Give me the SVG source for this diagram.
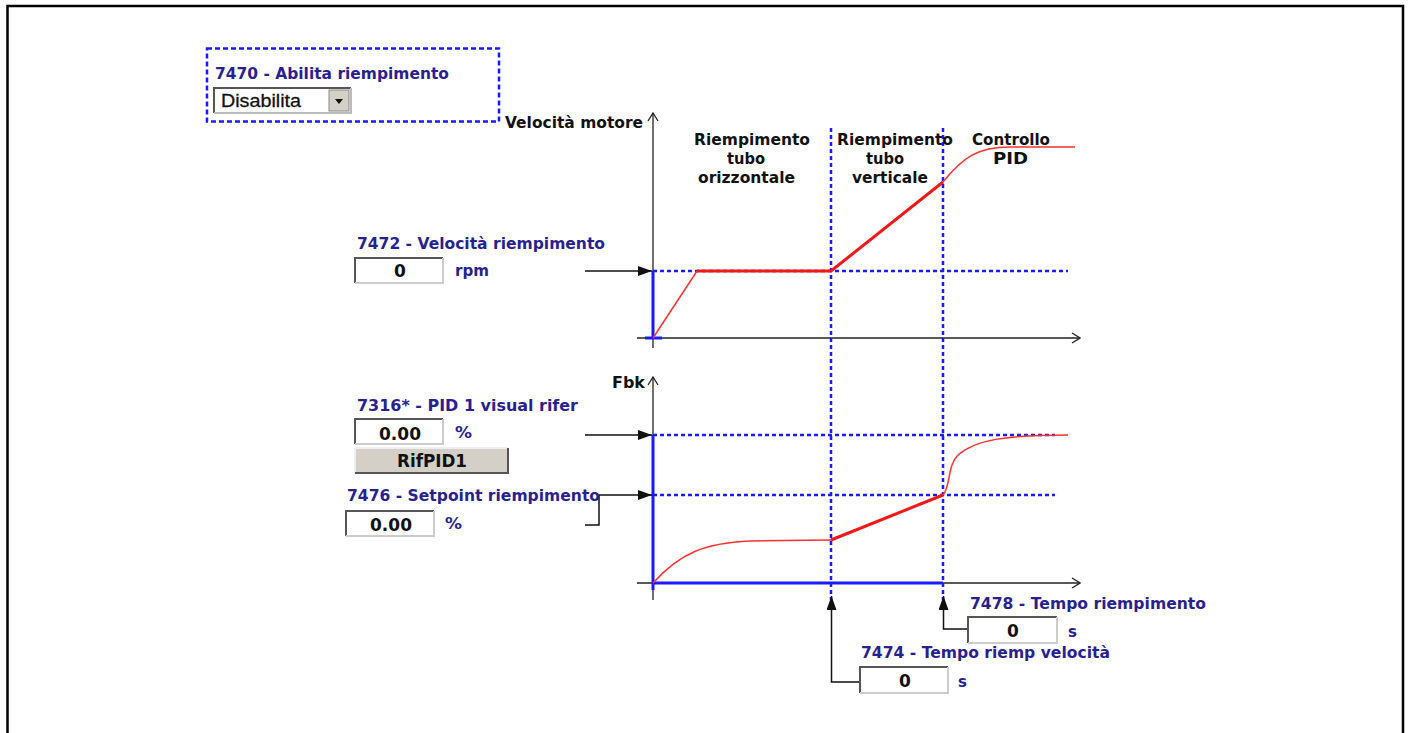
<svg xmlns="http://www.w3.org/2000/svg" width="1410" height="733" viewBox="0 0 1410 733">
<defs>
<style>
.lbl{font-family:"DejaVu Sans",Verdana,sans-serif;font-weight:bold;font-size:15px;fill:#2a1f8f}
.blk{font-family:"DejaVu Sans",Verdana,sans-serif;font-weight:bold;font-size:15px;fill:#111}
.val{font-family:"DejaVu Sans",Verdana,sans-serif;font-weight:bold;font-size:17px;fill:#111;text-anchor:middle}
.axis{stroke:#222;stroke-width:1.3;fill:none}
.dash{stroke:#1a1aff;stroke-width:2.5;stroke-dasharray:4 3;fill:none}
.bsolid{stroke:#1a1aff;stroke-width:3;fill:none}
.rthin{stroke:#ff3030;stroke-width:1.5;fill:none}
.rthick{stroke:#f01818;stroke-width:3;fill:none}
.inarrow{stroke:#111;stroke-width:1.5;fill:none}
.boxbg{fill:#fff}
</style>
<marker id="ah" viewBox="0 0 14 10" refX="14" refY="5" markerWidth="14" markerHeight="10" markerUnits="userSpaceOnUse" orient="auto">
<path d="M0,0 L14,5 L0,10 Z" fill="#111"/>
</marker>
<marker id="ax" viewBox="0 0 10 12" refX="9" refY="6" markerWidth="10" markerHeight="12" markerUnits="userSpaceOnUse" orient="auto">
<path d="M1,1 L9,6 L1,11" fill="none" stroke="#222" stroke-width="1.3"/>
</marker>
</defs>
<rect width="1410" height="733" fill="#fff"/>
<rect x="7.5" y="6" width="1395.5" height="800" fill="none" stroke="#000" stroke-width="2.5"/>

<g id="enable-box">
<rect x="207" y="48.5" width="292" height="73" fill="none" stroke="#1a1aff" stroke-width="2.5" stroke-dasharray="5 3"/>
<text class="lbl" x="215" y="79" textLength="234" lengthAdjust="spacingAndGlyphs">7470 - Abilita riempimento</text>
<rect x="214" y="88" width="137" height="25" fill="#fff"/>
<path d="M214,113 V88 H351" stroke="#555" stroke-width="2" fill="none"/>
<path d="M351,88 V113 H214" stroke="#bbb" stroke-width="2" fill="none"/>
<text x="221" y="107" font-family="'Liberation Sans',Arial,sans-serif" font-size="19" fill="#111" stroke="#111" stroke-width="0.3" textLength="80" lengthAdjust="spacingAndGlyphs">Disabilita</text>
<rect x="329" y="90" width="20" height="21" fill="#d4d0c8" stroke="#888" stroke-width="1"/>
<path d="M335,99 L343,99 L339,104 Z" fill="#111"/>
</g>

<g id="connectors">
<line class="axis" x1="653" y1="348" x2="653" y2="113" marker-end="url(#ax)"/>
<line class="axis" x1="637" y1="338" x2="1080" y2="338" marker-end="url(#ax)"/>
<line class="axis" x1="653" y1="600" x2="653" y2="377" marker-end="url(#ax)"/>
<line class="axis" x1="637" y1="583" x2="1080" y2="583" marker-end="url(#ax)"/>
<line class="dash" x1="831" y1="128" x2="831" y2="600"/>
<line class="dash" x1="943" y1="128" x2="943" y2="600"/>
<line class="dash" x1="653" y1="271" x2="1068" y2="271"/>
<line class="dash" x1="653" y1="435" x2="1055" y2="435"/>
<line class="dash" x1="653" y1="495" x2="1055" y2="495"/>
<line class="bsolid" x1="653" y1="271" x2="653" y2="338"/>
<line class="bsolid" x1="645" y1="338" x2="662" y2="338"/>
<line class="bsolid" x1="653" y1="435" x2="653" y2="590"/>
<line class="bsolid" x1="653" y1="583" x2="943" y2="583"/>
<path class="rthin" d="M653,338 L697,271"/>
<path class="rthick" d="M697,271 L831,271 L943,182"/>
<path class="rthin" d="M943,182 C963,157 978,147 1010,147 L1075,147"/>
<path class="rthin" d="M653,583 C680,553 705,543 750,541 L831,540"/>
<path class="rthick" d="M831,540 L943,495"/>
<path class="rthin" d="M943,495 C951,486 947,466 958,455 C975,440 1005,435 1068,435"/>
<line class="inarrow" x1="585" y1="271" x2="652" y2="271" marker-end="url(#ah)"/>
<line class="inarrow" x1="585" y1="435" x2="652" y2="435" marker-end="url(#ah)"/>
<path class="inarrow" d="M585,525 H599 V495 H652" marker-end="url(#ah)"/>
<path class="inarrow" d="M860,682 H831.5 V596" marker-end="url(#ah)"/>
<path class="inarrow" d="M968,629 H943.5 V596" marker-end="url(#ah)"/>
</g>

<g id="axis-labels">
<text class="blk" x="505" y="128" textLength="138" lengthAdjust="spacingAndGlyphs">Velocità motore</text>
<text class="blk" x="612" y="388" textLength="33" lengthAdjust="spacingAndGlyphs">Fbk</text>
</g>

<g id="phase-labels">
<text class="blk" x="694" y="145" textLength="116" lengthAdjust="spacingAndGlyphs">Riempimento</text>
<text class="blk" x="727" y="164" textLength="38" lengthAdjust="spacingAndGlyphs">tubo</text>
<text class="blk" x="698" y="183" textLength="97" lengthAdjust="spacingAndGlyphs">orizzontale</text>
<text class="blk" x="837" y="145" textLength="116" lengthAdjust="spacingAndGlyphs">Riempimento</text>
<text class="blk" x="866" y="164" textLength="38" lengthAdjust="spacingAndGlyphs">tubo</text>
<text class="blk" x="852" y="183" textLength="76" lengthAdjust="spacingAndGlyphs">verticale</text>
<text class="blk" x="972" y="145" textLength="78" lengthAdjust="spacingAndGlyphs">Controllo</text>
<text class="blk" x="993" y="164" textLength="35" lengthAdjust="spacingAndGlyphs">PID</text>
</g>

<g id="p7472">
<text class="lbl" x="357" y="249" textLength="248" lengthAdjust="spacingAndGlyphs">7472 - Velocità riempimento</text>
<rect class="boxbg" x="355" y="258" width="88" height="25"/>
<path d="M355,283 V258 H443" stroke="#555" stroke-width="2" fill="none"/>
<path d="M443,258 V283 H355" stroke="#ccc" stroke-width="2" fill="none"/>
<text class="val" x="400" y="277">0</text>
<text class="lbl" x="455" y="276" textLength="34" lengthAdjust="spacingAndGlyphs">rpm</text>
</g>

<g id="p7316">
<text class="lbl" x="357" y="411" textLength="221" lengthAdjust="spacingAndGlyphs">7316* - PID 1 visual rifer</text>
<rect class="boxbg" x="355" y="419" width="88" height="25"/>
<path d="M355,444 V419 H443" stroke="#555" stroke-width="2" fill="none"/>
<path d="M443,419 V444 H355" stroke="#ccc" stroke-width="2" fill="none"/>
<text class="val" x="400" y="440">0.00</text>
<text class="lbl" x="455" y="438" textLength="17" lengthAdjust="spacingAndGlyphs">%</text>
<rect x="355" y="448" width="153" height="25" fill="#d4d0c8"/>
<path d="M355,473 V448 H508" stroke="#eee" stroke-width="2" fill="none"/>
<path d="M508,448 V473 H355" stroke="#555" stroke-width="2" fill="none"/>
<text class="val" x="432" y="467" font-size="15" textLength="70" lengthAdjust="spacingAndGlyphs">RifPID1</text>
</g>

<g id="p7476">
<text class="lbl" x="347" y="501" textLength="253" lengthAdjust="spacingAndGlyphs">7476 - Setpoint riempimento</text>
<rect class="boxbg" x="346" y="511" width="88" height="25"/>
<path d="M346,536 V511 H434" stroke="#555" stroke-width="2" fill="none"/>
<path d="M434,511 V536 H346" stroke="#ccc" stroke-width="2" fill="none"/>
<text class="val" x="391" y="531">0.00</text>
<text class="lbl" x="445" y="529" textLength="17" lengthAdjust="spacingAndGlyphs">%</text>
</g>

<g id="p7478">
<text class="lbl" x="970" y="609" textLength="236" lengthAdjust="spacingAndGlyphs">7478 - Tempo riempimento</text>
<rect class="boxbg" x="968" y="617" width="89" height="26"/>
<path d="M968,643 V617 H1057" stroke="#555" stroke-width="2" fill="none"/>
<path d="M1057,617 V643 H968" stroke="#ccc" stroke-width="2" fill="none"/>
<text class="val" x="1013" y="637">0</text>
<text class="lbl" x="1068" y="637">s</text>
</g>

<g id="p7474">
<text class="lbl" x="861" y="658" textLength="249" lengthAdjust="spacingAndGlyphs">7474 - Tempo riemp velocità</text>
<rect class="boxbg" x="860" y="667" width="88" height="26"/>
<path d="M860,693 V667 H948" stroke="#555" stroke-width="2" fill="none"/>
<path d="M948,667 V693 H860" stroke="#ccc" stroke-width="2" fill="none"/>
<text class="val" x="905" y="687">0</text>
<text class="lbl" x="958" y="687">s</text>
</g>
</svg>
